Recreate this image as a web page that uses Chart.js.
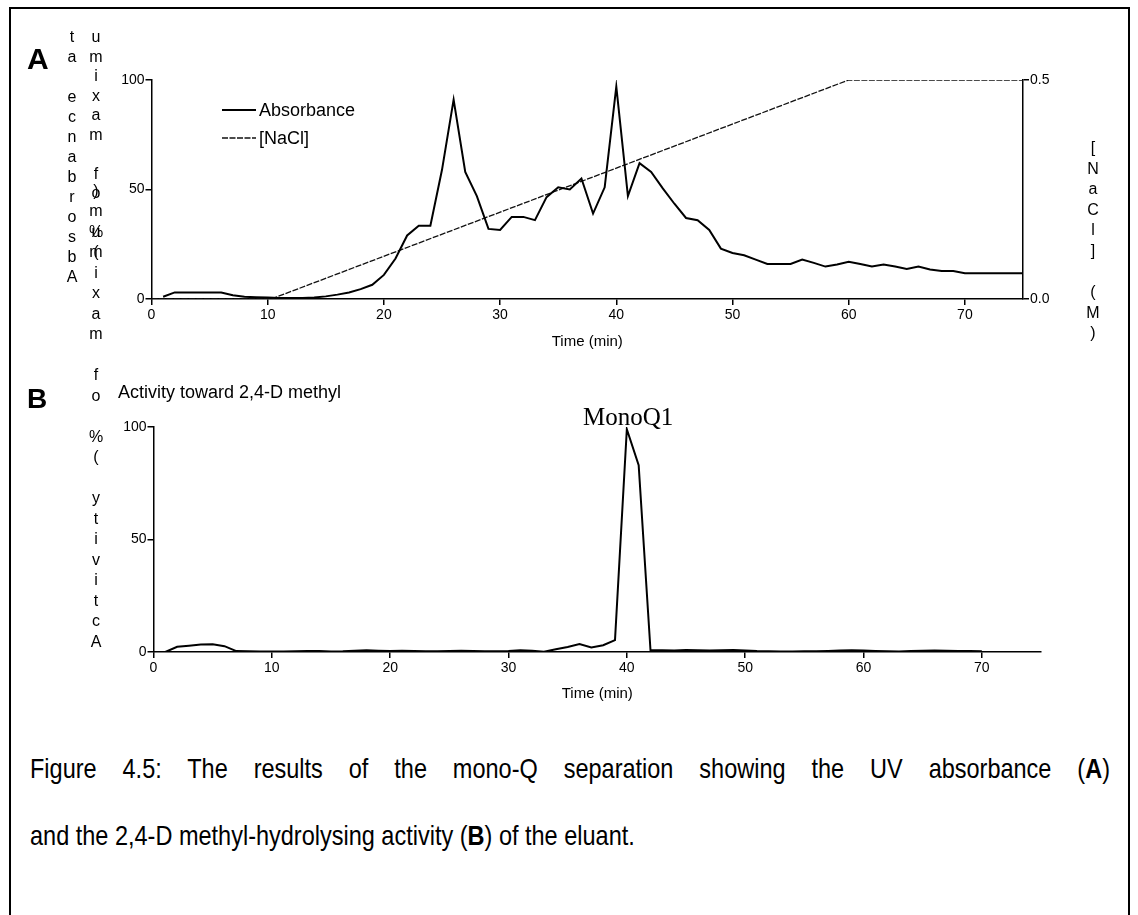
<!DOCTYPE html>
<html>
<head>
<meta charset="utf-8">
<script src="https://cdn.jsdelivr.net/npm/chart.js@4.4.0/dist/chart.umd.min.js"></script>
<style>
  body { margin: 0; background: #fff; width: 1138px; height: 915px; overflow: hidden; position: relative;
         font-family: "Liberation Sans", Arial, sans-serif; color: #000; }
  .frame { position: absolute; left: 9px; top: 7px; width: 1117px; height: 1000px; border: 2px solid #000; }
  canvas { position: absolute; left: 0; }
  .t { position: absolute; white-space: nowrap; }
  .ch { position: absolute; transform: translate(-50%, -50%); font-size: 16px; line-height: 1; }
  .panel { font-weight: bold; font-size: 30px; }
  .caption { font-size: 23.5px; line-height: 24px; left: 30px; transform: scaleY(1.2); transform-origin: left center; }
  .justify { width: 1080px; text-align: justify; text-align-last: justify; }
</style>
</head>
<body>
<div class="frame"></div>
<canvas id="chartA" width="1138" height="360" style="top:0"></canvas>
<canvas id="chartB" width="1138" height="355" style="top:360px"></canvas>

<div class="t panel" style="left:27px; top:42px;">A</div>
<div class="t panel" style="left:27px; top:383px; font-size:28px;">B</div>
<div class="t" style="left:118px; top:382px; font-size:18px;">Activity toward 2,4-D methyl</div>
<div class="t" style="left:583px; top:403px; font-size:25px; font-family:'Liberation Serif','Times New Roman',serif;">MonoQ1</div>
<div class="t caption justify" style="top:756px;">Figure 4.5: The results of the mono-Q separation showing the UV absorbance (<b>A</b>)</div>
<div class="t caption" style="top:823px;">and the 2,4-D methyl-hydrolysing activity (<b>B</b>) of the eluant.</div>

<script>
// Panel A: UV absorbance (% of max) and NaCl gradient (M) against time (min)
const absTime = [1, 2, 3, 4, 5, 6, 7, 8, 9, 10, 11, 12, 13, 14, 15, 16, 17, 18, 19, 20,
  21, 22, 23, 24, 25, 26, 27, 28, 29, 30, 31, 32, 33, 34, 35, 36, 37, 38, 39, 40,
  41, 42, 43, 44, 45, 46, 47, 48, 49, 50, 51, 52, 53, 54, 55, 56, 57, 58, 59, 60,
  61, 62, 63, 64, 65, 66, 67, 68, 69, 70, 75];
const absValue = [1, 3, 3, 3, 3, 3, 1.7, 1, 0.8, 0.7, 0.5, 0.5, 0.5, 0.7, 1.2, 2, 3, 4.5, 6.5, 11,
  18.5, 29, 33.5, 33.5, 59, 91, 58, 47, 32, 31.5, 37.5, 37.5, 36, 46.5, 51, 50, 55, 39, 51, 97,
  47, 62, 58, 50.5, 43.5, 37, 36, 31.5, 23, 21, 20, 18, 16, 16, 16, 18, 16.5, 14.8, 15.8, 17,
  16, 14.8, 15.7, 14.8, 13.7, 14.8, 13.5, 12.8, 12.8, 11.8, 11.8];

const naclTime = [0, 10.3, 60, 75];
const naclValue = [0, 0, 0.5, 0.5];

// Panel B: activity toward 2,4-D methyl (% of max)
const actTime = [1, 2, 3, 4, 5, 6, 7, 8, 9, 10, 11, 12, 13, 14, 15, 16, 17, 18, 19, 20,
  21, 22, 23, 24, 25, 26, 27, 28, 29, 30, 31, 32, 33, 34, 35, 36, 37, 38, 39, 40,
  41, 42, 43, 44, 45, 46, 47, 48, 49, 50, 51, 52, 53, 54, 55, 56, 57, 58, 59, 60,
  61, 62, 63, 64, 65, 66, 67, 68, 69, 70];
const actValue = [0, 2.3, 2.8, 3.3, 3.4, 2.6, 0.4, 0.3, 0.2, 0.2, 0.2, 0.3, 0.5, 0.5, 0.2, 0.3, 0.6, 0.8, 0.6, 0.5,
  0.6, 0.5, 0.3, 0.3, 0.4, 0.5, 0.4, 0.3, 0.3, 0.4, 0.8, 0.6, 0.1, 1.2, 2.2, 3.5, 2, 3, 5.3, 99,
  83, 0.8, 0.8, 0.7, 0.9, 0.8, 0.7, 0.8, 0.9, 0.7, 0.4, 0.3, 0.2, 0.2, 0.3, 0.3, 0.5, 0.7, 0.8, 0.7,
  0.5, 0.3, 0.2, 0.4, 0.6, 0.7, 0.6, 0.5, 0.4, 0.3];

const xTicksStep = 10;
const absTicks = [0, 50, 100];
const naclTicks = [0, 0.5];

function toPoints(xs, ys) {
  return xs.map((x, i) => ({ x: x, y: ys[i] }));
}

// stacked single letters, the way the axis titles appear in the figure
function stack(text, x, y0, step) {
  [...text].forEach((c, i) => {
    if (c === ' ') return;
    const d = document.createElement('div');
    d.className = 'ch';
    d.textContent = c;
    d.style.left = x + 'px';
    d.style.top = (y0 + i * step) + 'px';
    document.body.appendChild(d);
  });
}
stack('ta ecnabrosbA', 72, 37, 20);
stack('umixam fo %(', 96, 37, 19.5);
stack(')mumixam fo %( ytivitcA', 96, 190.5, 20.5);
stack('[NaCl] (M)', 1093, 148, 20.6);

Chart.defaults.font.family = '"Liberation Sans", Arial, sans-serif';
Chart.defaults.color = '#000';

const font = 'Liberation Sans, Arial, sans-serif';

// small legend drawn inside panel A
const legendA = {
  id: 'legendA',
  afterDraw(chart) {
    const ctx = chart.ctx;
    ctx.save();
    chart.data.datasets.forEach((ds, i) => {
      const y = 110 + i * 28;
      ctx.strokeStyle = ds.borderColor;
      ctx.lineWidth = ds.borderWidth;
      ctx.setLineDash(ds.borderDash || []);
      ctx.beginPath();
      ctx.moveTo(222, y);
      ctx.lineTo(256, y);
      ctx.stroke();
      ctx.setLineDash([]);
      ctx.fillStyle = '#000';
      ctx.font = '18px ' + font;
      ctx.textBaseline = 'middle';
      ctx.fillText(ds.label, 259, y + 1);
    });
    ctx.restore();
  }
};

function xScale(axisHeight, titlePad) {
  return {
    type: 'linear',
    min: 0,
    max: 75,
    afterFit: s => { s.height = axisHeight; },
    ticks: { stepSize: xTicksStep, includeBounds: false, font: { size: 14 }, padding: 2, maxRotation: 0 },
    grid: { drawOnChartArea: false, drawTicks: true, tickLength: 6, color: '#000', lineWidth: 1.5 },
    border: { display: true, color: '#000', width: 1.5 },
    title: { display: true, text: 'Time (min)', font: { size: 15 }, padding: { top: 0, bottom: titlePad } }
  };
}

function yScale(position, width, ticks, fmt) {
  return {
    type: 'linear',
    position: position,
    min: ticks[0],
    max: ticks[ticks.length - 1],
    afterFit: s => { s.width = width; },
    afterBuildTicks: s => { s.ticks = ticks.map(v => ({ value: v })); },
    ticks: { font: { size: 14 }, padding: 1, callback: fmt },
    grid: { drawOnChartArea: false, drawTicks: true, tickLength: 6, color: '#000', lineWidth: 1.5 },
    border: { display: true, color: '#000', width: 1.5 }
  };
}

new Chart(document.getElementById('chartA'), {
  type: 'line',
  data: {
    datasets: [
      {
        label: 'Absorbance',
        data: toPoints(absTime, absValue),
        borderColor: '#000',
        borderWidth: 2,
        pointRadius: 0,
        tension: 0,
        yAxisID: 'y'
      },
      {
        label: '[NaCl]',
        data: toPoints(naclTime, naclValue),
        borderColor: '#111',
        borderWidth: 1.3,
        borderDash: [6, 1.5],
        pointRadius: 0,
        tension: 0,
        yAxisID: 'y2'
      }
    ]
  },
  options: {
    responsive: false,
    animation: false,
    devicePixelRatio: 1,
    layout: { padding: { left: 100, right: 60, top: 80, bottom: 0 } },
    plugins: { legend: { display: false }, tooltip: { enabled: false } },
    scales: {
      x: xScale(61, 9),
      y: yScale('left', 51.5, absTicks, v => v),
      y2: yScale('right', 55, naclTicks, v => Number(v).toFixed(1))
    }
  },
  plugins: [legendA]
});

new Chart(document.getElementById('chartB'), {
  type: 'line',
  data: {
    datasets: [{
      label: 'Activity toward 2,4-D methyl',
      data: toPoints(actTime, actValue),
      borderColor: '#000',
      borderWidth: 2,
      pointRadius: 0,
      tension: 0
    }]
  },
  options: {
    responsive: false,
    animation: false,
    devicePixelRatio: 1,
    layout: { padding: { left: 100, right: 97, top: 67, bottom: 0 } },
    plugins: { legend: { display: false }, tooltip: { enabled: false } },
    scales: {
      x: xScale(63, 12),
      y: yScale('left', 53.5, absTicks, v => v)
    }
  }
});
</script>
</body>
</html>
